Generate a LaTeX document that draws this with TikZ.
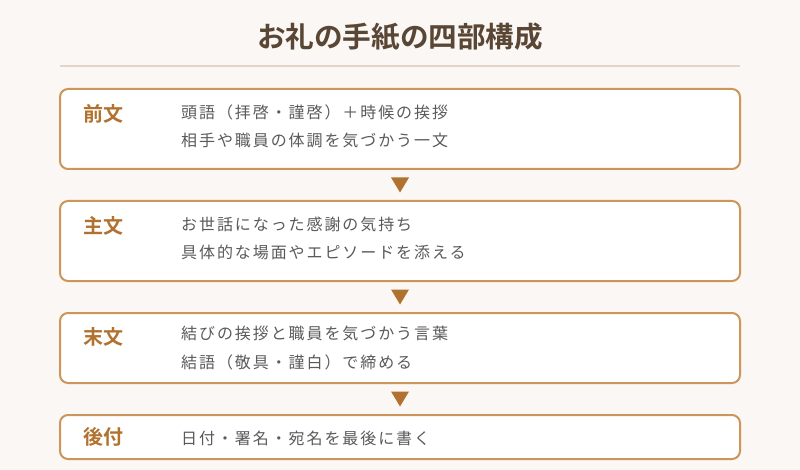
\documentclass[tikz,border=0pt]{standalone}
\usepackage{fontspec}
\usetikzlibrary{calc}
\newfontfamily\jp{Noto Sans CJK JP}[BoldFont={* Bold}]
\newfontfamily\jpesp{Noto Sans CJK JP}[LetterSpace=12]
\definecolor{fundo}{HTML}{FAF7F4}
\definecolor{borda}{HTML}{CC955C}
\definecolor{marrom}{HTML}{B2722F}
\definecolor{titulo}{HTML}{5A4634}
\definecolor{cinza}{HTML}{5A5A5A}
\definecolor{regua}{HTML}{E2D5C5}
\tikzset{
 caixa/.style={draw=borda,line width=2pt,fill=white,rounded corners=8pt,minimum width=680pt,inner sep=0pt},
 rotulo/.style={text=marrom,font=\jp\bfseries\fontsize{20}{24}\selectfont,anchor=west,inner sep=0pt},
 texto/.style={text=cinza,font=\jpesp\fontsize{16}{20}\selectfont,anchor=west,inner sep=0pt}
}
\begin{document}
\begin{tikzpicture}[x=1pt,y=-1pt]
%fundo com as medidas da figura
 \fill[fundo] (0,0) rectangle (800,470);
 \useasboundingbox (0,0) rectangle (800,470);
%título e régua
 \node[text=titulo,font=\jp\bfseries\fontsize{28.6}{32}\selectfont] (tit) at (400,37) {お礼の手紙の四部構成};
 \draw[regua,line width=2pt] (60,66) -- (740,66);
%as quatro caixas
 \node[caixa,minimum height=80pt] (b1) at (400,129) {};
 \node[caixa,minimum height=80pt] (b2) at (400,241) {};
 \node[caixa,minimum height=70pt] (b3) at (400,348) {};
 \node[caixa,minimum height=44pt] (b4) at (400,437) {};
%rótulos
 \node[rotulo] (r1) at (83,114) {前文};
 \node[rotulo] (r2) at (83,226) {主文};
 \node[rotulo] (r3) at (83,337) {末文};
 \node[rotulo] (r4) at (83,437) {後付};
%textos
 \node[texto] (t1a) at (181,112) {頭語（拝啓・謹啓）＋時候の挨拶};
 \node[texto] (t1b) at (181,140) {相手や職員の体調を気づかう一文};
 \node[texto] (t2a) at (181,224) {お世話になった感謝の気持ち};
 \node[texto] (t2b) at (181,252) {具体的な場面やエピソードを添える};
 \node[texto] (t3a) at (181,333) {結びの挨拶と職員を気づかう言葉};
 \node[texto] (t3b) at (181,362) {結語（敬具・謹白）で締める};
 \node[texto] (t4a) at (181,438) {日付・署名・宛名を最後に書く};
%setas entre as caixas
 \foreach \a/\b in {b1/b2,b2/b3,b3/b4}{
  \coordinate (m\a) at ($(\a.south)!0.5!(\b.north)$);
  \fill[marrom] ([xshift=-9pt,yshift=7.5pt]m\a) -- ([xshift=9pt,yshift=7.5pt]m\a) -- ([yshift=-7.5pt]m\a) -- cycle;
 }
\end{tikzpicture}
\end{document}
